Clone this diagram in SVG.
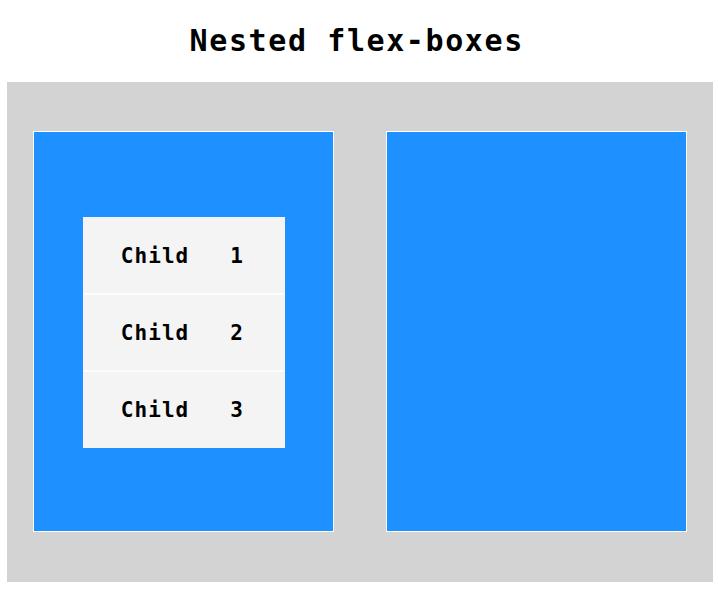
<svg xmlns="http://www.w3.org/2000/svg" width="718" height="606" viewBox="0 0 718 606">
<style>
.title{font-family:"DejaVu Sans Mono","Liberation Mono",monospace;font-weight:bold;font-size:30px;letter-spacing:1.6px;fill:#000;white-space:pre}
.lbl{font-family:"DejaVu Sans Mono","Liberation Mono",monospace;font-weight:bold;font-size:21px;letter-spacing:1.05px;fill:#000;white-space:pre}
.outer{fill:#d3d3d3}
.box{fill:#1e90ff;stroke:#fff;stroke-width:1}
.child{fill:#f4f4f4}
.sep{stroke:#fff;stroke-width:1.5}
</style>
<rect width="718" height="606" fill="#fff"/>
<text class="title" x="189.6" y="51">Nested flex-boxes</text>
<g id="container">
<rect class="outer" x="7" y="82" width="706" height="500"/>
</g>
<g id="box-left">
<rect class="box" x="33.5" y="131.5" width="300" height="400"/>
</g>
<g id="box-right">
<rect class="box" x="386.5" y="131.5" width="300" height="400"/>
</g>
<g id="child-1">
<rect class="child" x="83" y="217" width="202" height="77"/>
<text class="lbl" x="120.8" y="263" xml:space="preserve">Child   1</text>
</g>
<g id="child-2">
<rect class="child" x="83" y="294" width="202" height="77"/>
<text class="lbl" x="120.8" y="340" xml:space="preserve">Child   2</text>
</g>
<g id="child-3">
<rect class="child" x="83" y="371" width="202" height="77"/>
<text class="lbl" x="120.8" y="417" xml:space="preserve">Child   3</text>
</g>
<g id="connectors">
<line class="sep" x1="83" y1="294" x2="285" y2="294"/>
<line class="sep" x1="83" y1="371" x2="285" y2="371"/>
</g>
</svg>
